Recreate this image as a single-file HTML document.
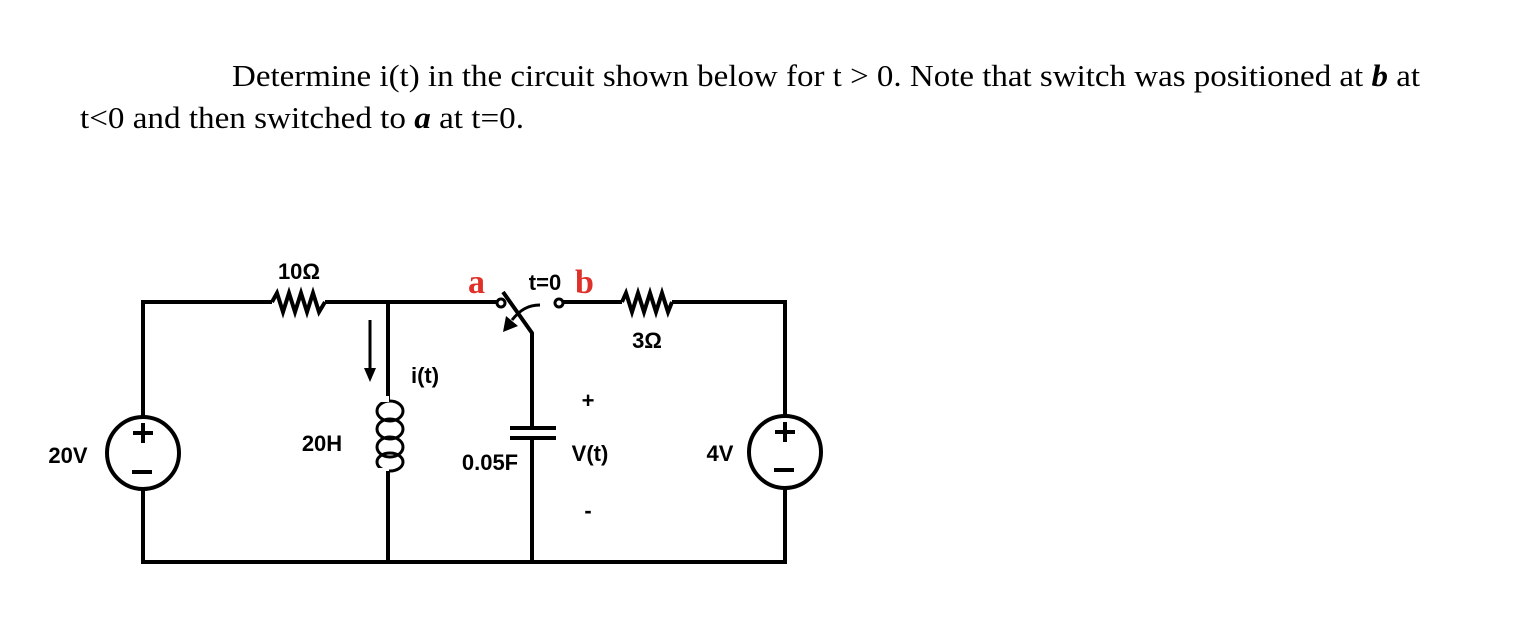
<!DOCTYPE html>
<html><head><meta charset="utf-8"><style>
html,body{margin:0;padding:0;background:#fff;}
svg{display:block;}
</style></head><body>
<svg width="1528" height="627" viewBox="0 0 1528 627" xmlns="http://www.w3.org/2000/svg">
<g font-family="'Liberation Serif', serif" font-size="31" fill="#000">
<text x="232" y="86" textLength="1188" lengthAdjust="spacingAndGlyphs">Determine i(t) in the circuit shown below for t &gt; 0. Note that switch was positioned at <tspan font-weight="bold" font-style="italic">b</tspan> at</text>
<text x="80" y="128" textLength="444" lengthAdjust="spacingAndGlyphs">t&lt;0 and then switched to <tspan font-weight="bold" font-style="italic">a</tspan> at t=0.</text>
</g>
<g stroke="#000" stroke-width="4" fill="none" stroke-linejoin="miter">
<polyline points="143,417 143,302 272,302"/>
<polyline points="272,302 277,293 283,312 289,293 295,312 301,293 307,312 313,293 319,312 325,302"/>
<polyline points="325,302 497,302"/>
<line x1="143" y1="489" x2="143" y2="562"/>
<line x1="141" y1="562" x2="787" y2="562"/>
<circle cx="143" cy="453" r="36"/>
<line x1="388" y1="302" x2="388" y2="400"/>
<g stroke-width="3">
<ellipse cx="390" cy="411" rx="13" ry="10"/>
<ellipse cx="390" cy="429" rx="13" ry="10"/>
<ellipse cx="390" cy="447" rx="13" ry="10"/>
<ellipse cx="390" cy="462" rx="13" ry="9"/>
</g>
<rect x="374" y="396" width="15" height="6" fill="#fff" stroke="none"/>
<rect x="374" y="468" width="15" height="6" fill="#fff" stroke="none"/>
<line x1="388" y1="471" x2="388" y2="562"/>
<circle cx="501" cy="303" r="4" stroke-width="3"/>
<circle cx="559" cy="303" r="4" stroke-width="3"/>
<polyline points="503,292 532,333 532,428"/>
<line x1="532" y1="438" x2="532" y2="562"/>
<line x1="510" y1="428" x2="556" y2="428"/>
<line x1="510" y1="438" x2="556" y2="438"/>
<path d="M540,305 C528,305 520,310 512,320" stroke-width="3"/>
<polyline points="563,302 622,302"/>
<polyline points="622,302 626,293 632,312 638,293 644,312 650,293 656,312 662,293 668,312 672,302"/>
<polyline points="672,302 785,302 785,416"/>
<line x1="785" y1="488" x2="785" y2="562"/>
<circle cx="785" cy="452" r="36"/>
<line x1="370" y1="320" x2="370" y2="372" stroke-width="3"/>
</g>
<polygon points="364,368 376,368 370,382" fill="#000"/>
<polygon points="503,332 506,316 518,326" fill="#000"/>
<g stroke="#000" stroke-width="4">
<line x1="133" y1="433" x2="153" y2="433"/><line x1="143" y1="423" x2="143" y2="443"/>
<line x1="132" y1="472" x2="152" y2="472"/>
<line x1="775" y1="432" x2="795" y2="432"/><line x1="785" y1="422" x2="785" y2="442"/>
<line x1="774" y1="470" x2="794" y2="470"/>
</g>
<g font-family="'Liberation Sans', sans-serif" font-weight="bold" font-size="22" fill="#000" text-anchor="middle">
<text x="299" y="279">10Ω</text>
<text x="545" y="290">t=0</text>
<text x="647" y="348">3Ω</text>
<text x="425" y="383">i(t)</text>
<text x="588" y="408">+</text>
<text x="322" y="451">20H</text>
<text x="490" y="470">0.05F</text>
<text x="590" y="461">V(t)</text>
<text x="588" y="518">-</text>
<text x="720" y="461">4V</text>
<text x="68" y="463">20V</text>
</g>
<g font-family="'Liberation Serif', serif" font-weight="bold" font-size="34" fill="#e0302a">
<text x="468" y="293">a</text>
<text x="575" y="293">b</text>
</g>
</svg>
</body></html>
